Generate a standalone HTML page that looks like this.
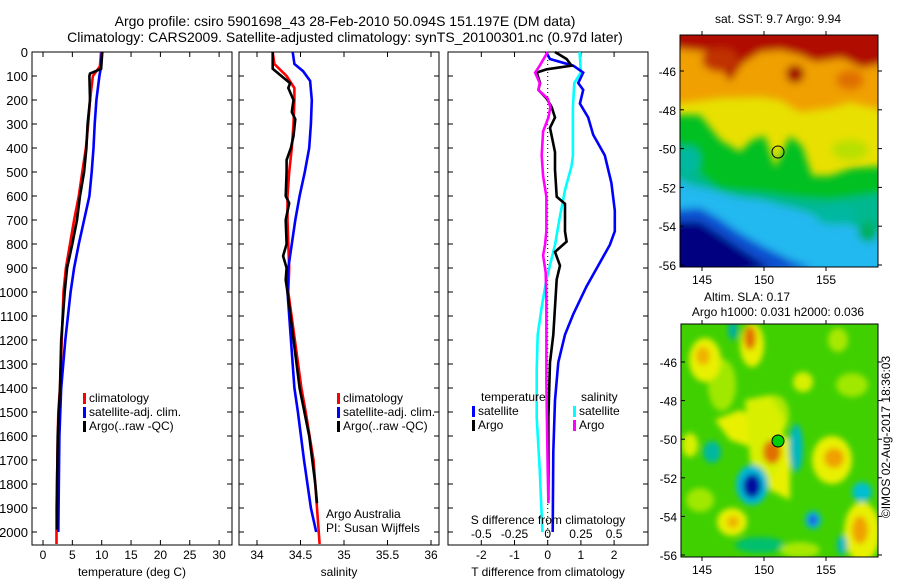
<!DOCTYPE html>
<html><head><meta charset="utf-8"><style>
body{margin:0;background:#fff;}
svg{display:block;font-family:"Liberation Sans",sans-serif;}
</style></head><body>
<svg id="chart" width="900" height="580" viewBox="0 0 900 580">
<defs>
<filter id="bl" x="-20%" y="-20%" width="140%" height="140%"><feGaussianBlur stdDeviation="4"/></filter>
<filter id="bl2" x="-50%" y="-50%" width="200%" height="200%"><feGaussianBlur stdDeviation="3"/></filter>
<clipPath id="cm1"><rect x="680" y="35" width="198" height="232"/></clipPath>
<clipPath id="cm2"><rect x="681" y="324" width="197" height="233"/></clipPath>
</defs>
<text x="345" y="26" font-size="14" text-anchor="middle">Argo profile: csiro 5901698_43 28-Feb-2010 50.094S 151.197E (DM data)</text>
<text x="345" y="42" font-size="14" text-anchor="middle">Climatology: CARS2009. Satellite-adjusted climatology: synTS_20100301.nc (0.97d later)</text>

<!-- SST map -->
<g>
<text x="778" y="23" font-size="12" text-anchor="middle">sat. SST: 9.7 Argo: 9.94</text>
<g clip-path="url(#cm1)">
<rect x="670" y="25" width="220" height="260" fill="#e8e000"/>
<g filter="url(#bl)">
<polygon points="670,25 890,25 890,112 850,102 830,108 800,112 780,100 760,97 720,98 690,102 670,104" fill="#f0a000"/>
<polygon points="670,25 890,25 890,62 862,68 842,58 815,62 800,55 780,50 760,52 742,64 730,82 710,52 690,50 670,48" fill="#b01000"/>
<ellipse cx="795" cy="74" rx="9" ry="9" fill="#a00000"/>
<ellipse cx="720" cy="60" rx="18" ry="12" fill="#c03000"/>
<ellipse cx="850" cy="80" rx="14" ry="10" fill="#e07000"/>
<polygon points="670,115 700,115 720,140 740,152 752,140 765,136 775,168 790,136 802,146 812,176 830,176 852,168 890,166 890,285 670,285" fill="#00c020"/>
<ellipse cx="850" cy="150" rx="18" ry="10" fill="#b8e000"/>
<polygon points="670,140 690,150 700,175 720,190 760,193 800,198 830,200 890,192 890,285 670,285" fill="#00b890"/>
<ellipse cx="690" cy="160" rx="10" ry="14" fill="#00b8a0"/>
<polygon points="670,175 690,185 712,190 740,198 760,200 800,210 830,220 870,230 890,228 890,285 670,285" fill="#20b8f0"/>
<polygon points="670,210 700,208 718,218 738,232 762,246 790,260 812,268 670,285" fill="#1050d0"/>
<polygon points="670,222 700,222 720,235 745,252 770,268 670,285" fill="#000080"/>
<ellipse cx="868" cy="232" rx="10" ry="10" fill="#00b060"/>
<ellipse cx="835" cy="215" rx="20" ry="10" fill="#00b8a0"/>
</g>
</g>
<rect x="680" y="35" width="198" height="232" fill="none" stroke="#000"/>
<circle cx="778" cy="152" r="6" fill="none" stroke="#000"/>
<g id="m1ticks"></g>
</g>

<!-- SLA map -->
<g>
<text x="747" y="301" font-size="12" text-anchor="middle">Altim. SLA: 0.17</text>
<text x="778" y="316" font-size="12" text-anchor="middle">Argo h1000: 0.031 h2000: 0.036</text>
<g clip-path="url(#cm2)">
<rect x="670" y="315" width="220" height="250" fill="#40d000"/>
<g filter="url(#bl2)">
<ellipse cx="722" cy="385" rx="14" ry="26" fill="#a0e800"/>
<ellipse cx="852" cy="385" rx="16" ry="12" fill="#a0e800"/>
<ellipse cx="700" cy="500" rx="14" ry="12" fill="#a0e800"/>
<ellipse cx="775" cy="415" rx="14" ry="20" fill="#b0e800"/>
<ellipse cx="760" cy="545" rx="25" ry="8" fill="#00c070"/>
<ellipse cx="705" cy="360" rx="16" ry="22" fill="#e8f000"/>
<ellipse cx="703" cy="356" rx="7" ry="9" fill="#f0b000"/>
<ellipse cx="752" cy="345" rx="12" ry="22" fill="#e8f000"/>
<ellipse cx="750" cy="338" rx="6" ry="12" fill="#e07000"/>
<ellipse cx="733" cy="330" rx="5" ry="10" fill="#00b0a0"/>
<polygon points="715,420 740,410 760,420 790,440 790,500 770,490 760,450 730,440" fill="#e8f000"/>
<polygon points="745,400 770,395 785,420 778,470 765,490 750,460" fill="#d8f000"/>
<ellipse cx="772" cy="452" rx="9" ry="12" fill="#e07000"/>
<ellipse cx="832" cy="460" rx="20" ry="24" fill="#e8f000"/>
<ellipse cx="834" cy="458" rx="10" ry="10" fill="#f0a000"/>
<ellipse cx="796" cy="448" rx="7" ry="24" fill="#00b8c0"/>
<ellipse cx="712" cy="452" rx="9" ry="11" fill="#00b8a0"/>
<ellipse cx="752" cy="485" rx="16" ry="20" fill="#00b8d8"/>
<ellipse cx="752" cy="486" rx="9" ry="12" fill="#0010a0"/>
<ellipse cx="862" cy="492" rx="10" ry="10" fill="#00c0d0"/>
<ellipse cx="813" cy="520" rx="8" ry="9" fill="#00b8e0"/>
<ellipse cx="813" cy="520" rx="4" ry="5" fill="#2040e0"/>
<ellipse cx="732" cy="522" rx="15" ry="14" fill="#e8f000"/>
<ellipse cx="733" cy="522" rx="6" ry="6" fill="#f0b000"/>
<ellipse cx="862" cy="532" rx="18" ry="30" fill="#e8f000"/>
<ellipse cx="860" cy="530" rx="8" ry="14" fill="#f0a000"/>
<ellipse cx="803" cy="382" rx="10" ry="10" fill="#d8f000"/>
<ellipse cx="838" cy="340" rx="10" ry="12" fill="#a8e800"/>
<ellipse cx="690" cy="445" rx="8" ry="12" fill="#d8f000"/>
<ellipse cx="800" cy="550" rx="20" ry="8" fill="#a8e800"/>
<ellipse cx="842" cy="545" rx="5" ry="10" fill="#00b8c0"/>
</g>
</g>
<rect x="681" y="324" width="197" height="233" fill="none" stroke="#000"/>
<circle cx="778" cy="441" r="6" fill="#00d000" stroke="#000"/>
<g id="m2ticks"></g>
<text x="0" y="0" font-size="12" text-anchor="middle" transform="translate(890,437) rotate(-90)">©IMOS 02-Aug-2017 18:36:03</text>
</g>

<g id="plots"></g>
</svg>
<script>
// depth grids and series (depth in m)
const tClimDepth = [0,60,100,200,300,400,500,600,700,800,900,1000,1400,1500,1900,2050];
const tClimVal   = [9.9,9.7,8.5,8.0,7.7,7.3,6.7,6.1,5.3,4.6,3.9,3.5,2.9,2.6,2.3,2.3];
const tSatDepth  = [0,60,100,200,300,400,500,600,700,800,900,1000,1200,1400,1600,2000];
const tSatVal    = [10.0,9.9,9.6,9.1,8.8,8.6,8.3,7.9,7.0,6.1,5.3,4.7,3.8,3.1,2.8,2.6];
const tArgoDepth = [0,70,90,100,200,300,400,500,600,700,800,900,1000,1200,1400,1600,1800,1990];
const tArgoVal   = [10.1,9.9,8.0,7.9,8.0,7.6,7.4,7.0,6.3,5.8,5.0,4.1,3.7,3.1,2.9,2.5,2.4,2.4];

const sClimDepth = [0,50,100,150,200,300,400,500,600,700,800,900,1000,1400,1500,1700,1900,2050];
const sClimVal   = [34.18,34.2,34.34,34.43,34.43,34.42,34.4,34.37,34.35,34.35,34.36,34.37,34.36,34.51,34.56,34.65,34.69,34.72];
const sSatDepth  = [0,50,80,120,200,300,400,500,600,700,800,900,1000,1400,1500,1700,1900,2000];
const sSatVal    = [34.41,34.43,34.53,34.61,34.63,34.62,34.6,34.55,34.49,34.44,34.4,34.36,34.35,34.43,34.47,34.54,34.62,34.68];
const sArgoDepth = [0,70,100,130,150,200,250,280,350,400,450,500,600,630,700,800,850,900,950,1000,1400,1600,1800,1880];
const sArgoVal   = [34.18,34.18,34.28,34.38,34.36,34.42,34.4,34.44,34.42,34.39,34.34,34.34,34.33,34.37,34.33,34.34,34.3,34.34,34.33,34.35,34.49,34.6,34.67,34.69];

const dTSatDepth = [0,29,57,86,129,158,215,273,345,431,546,661,747,804,890,977,1092,1178,1293,1451,1666,2000];
const dTSatVal   = [-0.05,0.07,0.77,1.07,0.92,1.07,0.97,1.22,1.37,1.72,1.92,2.02,2.02,1.87,1.52,1.17,0.77,0.52,0.32,0.22,0.17,0.15];
const dTArgoDepth= [0,29,57,72,86,129,158,194,230,273,316,417,489,603,632,747,790,833,890,948,1063,1178,1293,1523,1738,1867];
const dTArgoVal  = [0.22,0.57,0.72,-0.03,-0.33,-0.23,-0.28,-0.03,0.12,0.22,0.07,0.22,0.22,0.27,0.52,0.52,0.57,0.22,0.37,0.27,0.22,0.17,0.07,0.02,0.02,0.02];
const dSSatDepth = [0,86,129,230,431,474,575,690,804,948,1063,1178,1322,1523,1738,2000];
const dSSatVal   = [0.24,0.25,0.2,0.19,0.19,0.18,0.13,0.09,0.055,-0.01,-0.045,-0.075,-0.083,-0.083,-0.06,-0.04];
const dSArgoDepth= [0,57,86,129,158,194,230,273,331,431,517,603,661,747,804,847,919,1034,1381,1738,1880];
const dSArgoVal  = [0,-0.06,-0.095,-0.06,-0.07,0,0.02,0.005,-0.035,-0.045,-0.035,-0.01,-0.01,-0.01,-0.02,-0.035,-0.015,-0.01,-0.01,0,0.005];

const depthTicks = [0,100,200,300,400,500,600,700,800,900,1000,1100,1200,1300,1400,1500,1600,1700,1800,1900,2000];
const tempTicks = [0,5,10,15,20,25,30];
const salTicks = [34,34.5,35,35.5,36];
const salTickLabels = ["34","34.5","35","35.5","36"];
const dTTicks = [-2,-1,0,1,2];
const dSTicks = [-0.5,-0.25,0,0.25,0.5];
const latTicks = [-46,-48,-50,-52,-54,-56];
const lonTicks = [145,150,155];

const NS='http://www.w3.org/2000/svg';
const Y0=52, YB=545;
const yD = d => Y0 + d*0.24;
const xT = t => 43 + t*5.87;
const xS = s => 257 + (s-34)*87;
const xDT = v => 547.7 + v*33.2;
const xDS = s => 547.7 + s*4*33.2;
const plots = document.getElementById('plots');

function el(tag, attrs, parent){const e=document.createElementNS(NS,tag);for(const k in attrs)e.setAttribute(k,attrs[k]);(parent||plots).appendChild(e);return e;}
function txt(x,y,s,anchor,size,parent){const e=el('text',{x:x,y:y,'font-size':size||12,'text-anchor':anchor||'middle'},parent);e.textContent=s;return e;}
function line(depths,vals,fx,color,name){
  let d='';
  for(let i=0;i<depths.length;i++){d+=(i?'L':'M')+fx(vals[i]).toFixed(1)+','+yD(depths[i]).toFixed(1);}
  const p=el('path',{d:d,fill:'none',stroke:color,'stroke-width':2.6,'stroke-linejoin':'miter'});
  
  
}
function panel(x0,name){
  const r=el('rect',{x:x0,y:Y0,width:200,height:YB-Y0,fill:'none',stroke:'#000','stroke-width':1});
  
  
  depthTicks.forEach(d=>{
    el('line',{x1:x0,x2:x0+5,y1:yD(d),y2:yD(d),stroke:'#000'});
    el('line',{x1:x0+200,x2:x0+195,y1:yD(d),y2:yD(d),stroke:'#000'});
  });
}
function xticks(vals,fx,labels,name){
  vals.forEach((v,i)=>{
    el('line',{x1:fx(v),x2:fx(v),y1:YB,y2:YB-5,stroke:'#000'});
    el('line',{x1:fx(v),x2:fx(v),y1:Y0,y2:Y0+5,stroke:'#000'});
    const t=txt(fx(v),559,labels?labels[i]:String(v),'middle',12);
    
    
  });
}

// Panel 1 temperature
panel(32,'temperature-panel');
depthTicks.forEach(d=>{const t=txt(28,yD(d)+5,String(d),'end',13);
  
  });
xticks(tempTicks,xT,null,'temperature-tick-label');
let t1=txt(132,576,'temperature (deg C)','middle',12);


line(tClimDepth,tClimVal,xT,'#ff0000','temp-climatology-line');
line(tSatDepth,tSatVal,xT,'#0000ff','temp-satellite-line');
line(tArgoDepth,tArgoVal,xT,'#000000','temp-argo-line');

// Panel 2 salinity
panel(239,'salinity-panel');
xticks(salTicks,xS,salTickLabels,'salinity-tick-label');
let t2=txt(339,576,'salinity','middle',12);


line(sClimDepth,sClimVal,xS,'#ff0000','sal-climatology-line');
line(sSatDepth,sSatVal,xS,'#0000ff','sal-satellite-line');
line(sArgoDepth,sArgoVal,xS,'#000000','sal-argo-line');

// Panel 3 differences
panel(448,'difference-panel');
el('line',{x1:xDT(0),x2:xDT(0),y1:Y0,y2:YB,stroke:'#000','stroke-dasharray':'1,3'});
xticks(dTTicks,xDT,null,'t-diff-tick-label');
let t3=txt(548,576,'T difference from climatology','middle',12);


line(dSSatDepth,dSSatVal,xDS,'#00ffff','s-diff-satellite-line');
line(dTSatDepth,dTSatVal,xDT,'#0000ff','t-diff-satellite-line');
line(dTArgoDepth,dTArgoVal,xDT,'#000000','t-diff-argo-line');
line(dSArgoDepth,dSArgoVal,xDS,'#ff00ff','s-diff-argo-line');
dSTicks.forEach(v=>{const t=txt(xDS(v),538,String(v),'middle',12);
  
  });
let t4=txt(548,524,'S difference from climatology','middle',12);



// legends
function legend(x,y,color,label,name){
  el('rect',{x:x,y:y-9,width:3,height:11,fill:color});
  const t=txt(x+6,y,label,'start',12);
  
  
}
legend(83,402,'#ff0000','climatology','legend-climatology');
legend(83,416,'#0000ff','satellite-adj. clim.','legend-satellite');
legend(83,430,'#000000','Argo(..raw -QC)','legend-argo');
legend(337,402,'#ff0000','climatology','legend-sal-climatology');
legend(337,416,'#0000ff','satellite-adj. clim.','legend-sal-satellite');
legend(337,430,'#000000','Argo(..raw -QC)','legend-sal-argo');
let lt=txt(481,401,'temperature','start',12);


let ls=txt(581,401,'salinity','start',12);


legend(472,415,'#0000ff','satellite','legend-t-satellite');
legend(472,429,'#000000','Argo','legend-t-argo');
legend(573,415,'#00ffff','satellite','legend-s-satellite');
legend(573,429,'#ff00ff','Argo','legend-s-argo');
let a1=txt(326,518,'Argo Australia','start',12);


let a2=txt(326,532,'PI: Susan Wijffels','start',12);



// map ticks
function mapTicks(gid,yTop,yBot,lat46,lat56,xL,xR){
  const g=document.getElementById(gid);
  const yL = l => lat46 + (-46-l)*(lat56-lat46)/10;
  const xLon = l => 702 + (l-145)*12.4;
  latTicks.forEach(l=>{
    el('line',{x1:xL,x2:xL+4,y1:yL(l),y2:yL(l),stroke:'#000'},g);
    el('line',{x1:xR,x2:xR+4,y1:yL(l),y2:yL(l),stroke:'#000'},g);
    const t=txt(xL-4,yL(l)+5,String(l),'end',12,g);
    
    
  });
  lonTicks.forEach(l=>{
    el('line',{x1:xLon(l),x2:xLon(l),y1:yBot,y2:yBot+4,stroke:'#000'},g);
    el('line',{x1:xLon(l),x2:xLon(l),y1:yTop,y2:yTop-4,stroke:'#000'},g);
    const t=txt(xLon(l),yBot+17,String(l),'middle',12,g);
    
    
  });
}
mapTicks('m1ticks',35,267,71,265,680,878);
mapTicks('m2ticks',324,557,362,555,681,878);
</script>
</body></html>
